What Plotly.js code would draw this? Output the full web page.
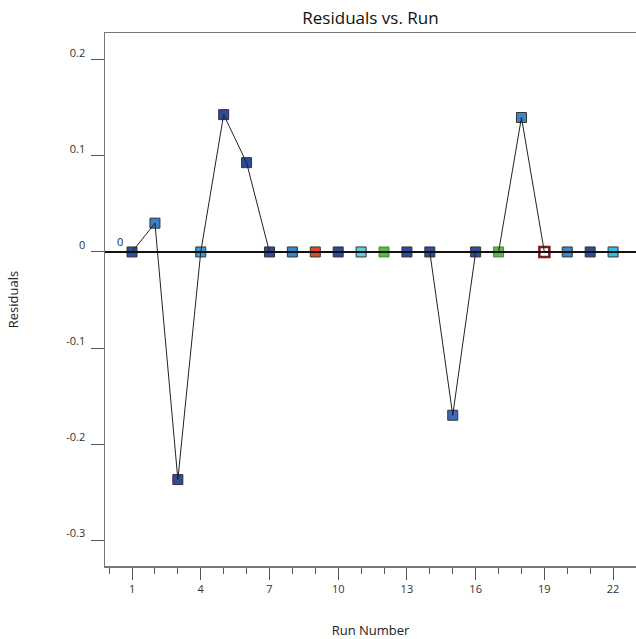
<!DOCTYPE html>
<html>
<head>
<meta charset="utf-8">
<script src="https://cdn.plot.ly/plotly-3.0.1.min.js"></script>
<style>html,body{margin:0;padding:0;background:#fff;}#chart{width:636px;height:639px;}</style>
</head>
<body>
<div id="chart"></div>
<script>
const runs = [1,2,3,4,5,6,7,8,9,10,11,12,13,14,15,16,17,18,19,20,21,22];
const residuals = [0, 0.030, -0.237, 0, 0.143, 0.093, 0, 0, 0, 0, 0, 0, 0, 0, -0.170, 0, 0, 0.140, 0, 0, 0, 0];
const pointColors = ['#2e4c9e','#3a80c8','#2e4c9e','#3c9ad6','#2e4c9e','#2e4c9e','#2e4c9e','#3a86c8','#e04a20','#2e4c9e','#5ccede','#5cb848','#2e4c9e','#2e4c9e','#3a6cc0','#2e4c9e','#5cb848','#3a86c8','#ffffff','#3a88c8','#2e4c9e','#2ec0e8'];
const pointEdges = ['#333','#333','#333','#333','#333','#333','#333','#333','#333','#333','#333','#4a8a3a','#333','#333','#333','#333','#4a8a3a','#333','#7a1c1c','#333','#333','#333'];
const edgeWidths = [1,1,1,1,1,1,1,1,1,1,1,1,1,1,1,1,1,1,2.5,1,1,1];
const yTicks = [-0.3,-0.2,-0.1,0,0.1,0.2];
const yTickText = ['-0.3','-0.2','-0.1','0','0.1','0.2'];
const xTicks = [1,4,7,10,13,16,19,22];

const font = "'Open Sans', 'Noto Sans', sans-serif";

const data = [
  {
    x: runs, y: residuals, mode: 'markers', type: 'scatter',
    marker: {symbol: 'square', size: 10, color: pointColors,
             line: {color: pointEdges, width: edgeWidths}},
    hoverinfo: 'x+y'
  },
  {
    x: runs, y: residuals, mode: 'lines', type: 'scatter',
    line: {color: '#222', width: 1},
    hoverinfo: 'skip'
  }
];

const layout = {
  width: 636, height: 639,
  margin: {l: 105, r: 0, t: 33, b: 73},
  paper_bgcolor: '#fff', plot_bgcolor: '#fff',
  showlegend: false,
  font: {family: font, color: '#333', size: 11},
  title: {text: 'Residuals vs. Run', font: {family: font, size: 17, color: '#111'},
          x: 0.5, xref: 'paper', xanchor: 'center', y: 1 - 18/639, yref: 'container', yanchor: 'middle'},
  xaxis: {
    range: [-0.18, 23.0], tickvals: xTicks, ticktext: xTicks.map(String),
    ticks: 'outside', ticklen: 12, tickcolor: '#555', tickwidth: 1,
    minor: {dtick: 1, tick0: 1, ticks: 'outside', ticklen: 6, tickcolor: '#555', tickwidth: 1},
    showline: true, linecolor: '#777', linewidth: 1.5, mirror: true,
    showgrid: false, zeroline: false,
    tickfont: {size: 11, color: '#333'},
    title: {text: 'Run Number', font: {size: 13, color: '#222'}, standoff: 32}
  },
  yaxis: {
    range: [-0.327, 0.228], tickmode: 'array', tickvals: yTicks, ticktext: yTickText,
    ticks: 'outside', ticklen: 13, tickcolor: '#555', tickwidth: 1,
    ticklabelshift: -7, ticklabelstandoff: 3,
    showline: true, linecolor: '#777', linewidth: 1.5,
    showgrid: false, zeroline: false,
    tickfont: {size: 11, color: '#333'},
    title: {text: 'Residuals', font: {size: 13, color: '#222'}, standoff: 44}
  },
  shapes: [
    {type: 'line', xref: 'paper', yref: 'y', x0: 0, x1: 1, y0: 0, y1: 0,
     line: {color: '#111', width: 2}, layer: 'above'}
  ],
  annotations: [
    {text: '0', xref: 'paper', yref: 'y', x: 0.019, y: 0, yshift: 10, showarrow: false,
     font: {size: 11, color: '#222'}}
  ]
};

Plotly.newPlot('chart', data, layout, {displayModeBar: false, staticPlot: true});
</script>
</body>
</html>
